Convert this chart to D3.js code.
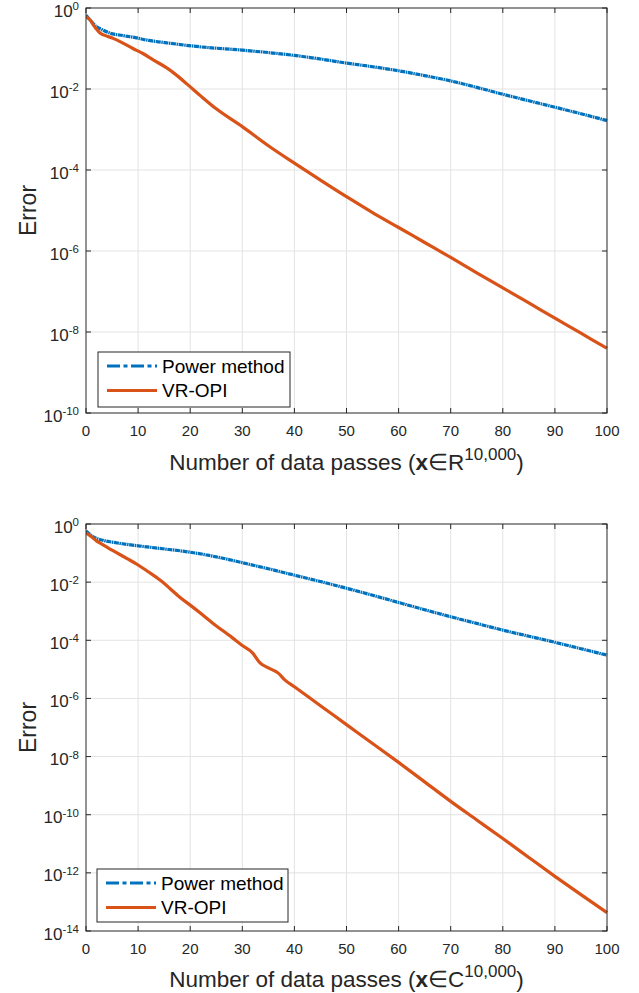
<!DOCTYPE html>
<html>
<head>
<meta charset="utf-8">
<script src="https://cdn.jsdelivr.net/npm/d3@7"></script>
<style>
  body { margin: 0; background: #fff; }
  svg { display: block; font-family: "Liberation Sans", Arial, Helvetica, sans-serif; }
</style>
</head>
<body>
<div id="chart"></div>
<script>
// x positions (number of data passes) and log10(error)
const topPowerX   = [0, 1, 2, 3, 4.6, 7, 9, 12, 15.5, 22, 30, 35, 40, 45, 50, 55, 60, 65, 70, 75, 80, 85, 90, 95, 100];
const topPowerExp = [-0.18, -0.33, -0.46, -0.53, -0.62, -0.68, -0.72, -0.80, -0.86, -0.96, -1.04, -1.10, -1.17, -1.26, -1.36, -1.45, -1.55, -1.67, -1.80, -1.96, -2.13, -2.29, -2.45, -2.61, -2.78];

const topVrX   = [0, 1, 1.4, 2, 2.7, 3.5, 5.2, 7, 9, 11, 12.9, 15.5, 17, 19.4, 22, 25, 30, 35, 40, 45, 50, 55, 60, 65, 70, 75, 80, 85, 90, 95, 97, 100];
const topVrExp = [-0.21, -0.33, -0.42, -0.52, -0.62, -0.67, -0.75, -0.86, -1.0, -1.13, -1.28, -1.48, -1.62, -1.88, -2.17, -2.49, -2.93, -3.40, -3.83, -4.25, -4.66, -5.05, -5.42, -5.79, -6.16, -6.54, -6.91, -7.28, -7.66, -8.03, -8.18, -8.40];

const botPowerX   = [0, 1.4, 3, 4.6, 7, 10, 14.2, 20, 25, 30, 35, 40, 45, 50, 55, 60, 65, 70, 75, 80, 85, 90, 95, 100];
const botPowerExp = [-0.24, -0.44, -0.55, -0.61, -0.68, -0.75, -0.84, -0.97, -1.13, -1.33, -1.54, -1.76, -1.98, -2.21, -2.45, -2.70, -2.95, -3.19, -3.42, -3.65, -3.86, -4.07, -4.29, -4.51];

const botVrX   = [0, 1, 1.4, 2, 3.3, 5, 7.8, 10, 12, 14.2, 16, 18, 20, 22, 24.4, 28, 30, 32, 33.4, 35, 36.9, 38.2, 40, 45, 50, 55, 60, 65, 70, 75, 80, 85, 90, 95, 100];
const botVrExp = [-0.30, -0.43, -0.49, -0.58, -0.72, -0.90, -1.18, -1.41, -1.65, -1.93, -2.20, -2.52, -2.79, -3.07, -3.42, -3.90, -4.18, -4.44, -4.78, -4.95, -5.13, -5.37, -5.60, -6.25, -6.90, -7.55, -8.20, -8.87, -9.54, -10.18, -10.82, -11.47, -12.12, -12.75, -13.37];

// tick labels
const xTickValues = [0, 10, 20, 30, 40, 50, 60, 70, 80, 90, 100];
const topYTickExps = [0, -2, -4, -6, -8, -10];
const botYTickExps = [0, -2, -4, -6, -8, -10, -12, -14];

const seriesNames = ['Power method', 'VR-OPI'];
const seriesColors = ['#0072BD', '#D95319'];

const W = 639, H = 993;
const svg = d3.select('#chart').append('svg')
    .attr('width', W)
    .attr('height', H);

const axisColor = '#262626';
const gridColor = '#e3e3e3';

function drawPanel(cfg) {
    const x = d3.scaleLinear().domain([0, 100]).range([cfg.left, cfg.right]);
    const y = d3.scaleLog()
        .domain([Math.pow(10, cfg.minExp), 1])
        .range([cfg.bottom, cfg.top]);

    const g = svg.append('g');

    // grid lines
    g.selectAll('.vgrid')
        .data(xTickValues.slice(1, -1))
        .join('line')
        .attr('x1', d => x(d)).attr('x2', d => x(d))
        .attr('y1', cfg.top).attr('y2', cfg.bottom)
        .attr('stroke', gridColor)
        .attr('stroke-width', 1);

    g.selectAll('.hgrid')
        .data(cfg.yTicks.slice(1, -1))
        .join('line')
        .attr('x1', cfg.left).attr('x2', cfg.right)
        .attr('y1', d => y(Math.pow(10, d))).attr('y2', d => y(Math.pow(10, d)))
        .attr('stroke', gridColor)
        .attr('stroke-width', 1);

    // data lines
    const line = d3.line()
        .curve(d3.curveMonotoneX)
        .x(d => x(d[0]))
        .y(d => y(Math.pow(10, d[1])));

    const clipId = 'clip' + cfg.id;
    g.append('clipPath').attr('id', clipId)
        .append('rect')
        .attr('x', cfg.left).attr('y', cfg.top - 2)
        .attr('width', cfg.right - cfg.left + 2)
        .attr('height', cfg.bottom - cfg.top + 2);

    const powerData = d3.zip(cfg.powerX, cfg.powerExp);
    const vrData = d3.zip(cfg.vrX, cfg.vrExp);

    g.append('path')
        .datum(powerData)
        .attr('clip-path', `url(#${clipId})`)
        .attr('d', line)
        .attr('fill', 'none')
        .attr('stroke', seriesColors[0])
        .attr('stroke-width', 3.2)
        .attr('stroke-dasharray', '5,0.6,1.5,0.6');

    g.append('path')
        .datum(vrData)
        .attr('clip-path', `url(#${clipId})`)
        .attr('d', line)
        .attr('fill', 'none')
        .attr('stroke', seriesColors[1])
        .attr('stroke-width', 3.2)
        .attr('stroke-linejoin', 'round');

    // box
    g.append('rect')
        .attr('x', cfg.left).attr('y', cfg.top)
        .attr('width', cfg.right - cfg.left)
        .attr('height', cfg.bottom - cfg.top)
        .attr('fill', 'none')
        .attr('stroke', axisColor)
        .attr('stroke-width', 1);

    // ticks (inward, all four sides)
    const tickLen = 5;
    xTickValues.forEach(v => {
        g.append('line')
            .attr('x1', x(v)).attr('x2', x(v))
            .attr('y1', cfg.bottom).attr('y2', cfg.bottom - tickLen)
            .attr('stroke', axisColor);
        g.append('line')
            .attr('x1', x(v)).attr('x2', x(v))
            .attr('y1', cfg.top).attr('y2', cfg.top + tickLen)
            .attr('stroke', axisColor);
    });
    cfg.yTicks.forEach(e => {
        const yy = y(Math.pow(10, e));
        g.append('line')
            .attr('x1', cfg.left).attr('x2', cfg.left + tickLen)
            .attr('y1', yy).attr('y2', yy)
            .attr('stroke', axisColor);
        g.append('line')
            .attr('x1', cfg.right).attr('x2', cfg.right - tickLen)
            .attr('y1', yy).attr('y2', yy)
            .attr('stroke', axisColor);
    });

    // x tick labels
    g.selectAll('.xlab')
        .data(xTickValues)
        .join('text')
        .attr('x', d => x(d))
        .attr('y', cfg.bottom + 23)
        .attr('text-anchor', 'middle')
        .attr('font-size', 15)
        .attr('fill', axisColor)
        .text(d => d);

    // y tick labels: 10^e
    cfg.yTicks.forEach(e => {
        const yy = y(Math.pow(10, e));
        const t = g.append('text')
            .attr('x', cfg.left - 7)
            .attr('y', yy + 8.5)
            .attr('text-anchor', 'end')
            .attr('fill', axisColor);
        t.append('tspan').attr('font-size', 17).text('10');
        t.append('tspan').attr('font-size', 11.5).attr('dy', -6.5).text(e === 0 ? '0' : '-' + Math.abs(e));
    });

    // y label
    g.append('text')
        .attr('transform', `translate(${cfg.left - 50},${(cfg.top + cfg.bottom) / 2}) rotate(-90)`)
        .attr('text-anchor', 'middle')
        .attr('font-size', 23)
        .attr('fill', axisColor)
        .text('Error');

    // x label
    const xl = g.append('text')
        .attr('x', (cfg.left + cfg.right) / 2)
        .attr('y', cfg.labelY)
        .attr('text-anchor', 'middle')
        .attr('font-size', 22.5)
        .attr('fill', axisColor);
    xl.append('tspan').text('Number of data passes (');
    xl.append('tspan').attr('font-weight', 'bold').text('x');
    xl.append('tspan').text('\u2208' + cfg.field);
    xl.append('tspan').attr('font-size', 17).attr('dy', -10).text('10,000');
    xl.append('tspan').attr('dy', 10).text(')');

    // legend
    const lg = g.append('g');
    lg.append('rect')
        .attr('x', cfg.legend.x).attr('y', cfg.legend.y)
        .attr('width', cfg.legend.w).attr('height', cfg.legend.h)
        .attr('fill', '#fff')
        .attr('stroke', axisColor)
        .attr('stroke-width', 1);
    seriesNames.forEach((name, i) => {
        const ly = cfg.legend.y + 14 + i * 24.5;
        lg.append('line')
            .attr('x1', cfg.legend.x + 9).attr('x2', cfg.legend.x + 59)
            .attr('y1', ly).attr('y2', ly)
            .attr('stroke', seriesColors[i])
            .attr('stroke-width', 3.2)
            .attr('stroke-dasharray', i === 0 ? '13,3.5,4,3.5' : null);
        lg.append('text')
            .attr('x', cfg.legend.x + 64)
            .attr('y', ly + 6.5)
            .attr('font-size', 19)
            .attr('fill', '#000')
            .text(name);
    });
}

drawPanel({
    id: 'top', left: 86, right: 607, top: 8, bottom: 413, minExp: -10,
    yTicks: topYTickExps, powerX: topPowerX, powerExp: topPowerExp,
    vrX: topVrX, vrExp: topVrExp, field: 'R', labelY: 470,
    legend: { x: 98, y: 352, w: 192, h: 55 }
});

drawPanel({
    id: 'bot', left: 86, right: 607, top: 524, bottom: 931, minExp: -14,
    yTicks: botYTickExps, powerX: botPowerX, powerExp: botPowerExp,
    vrX: botVrX, vrExp: botVrExp, field: 'C', labelY: 987,
    legend: { x: 97, y: 869, w: 191, h: 53 }
});
</script>
</body>
</html>
